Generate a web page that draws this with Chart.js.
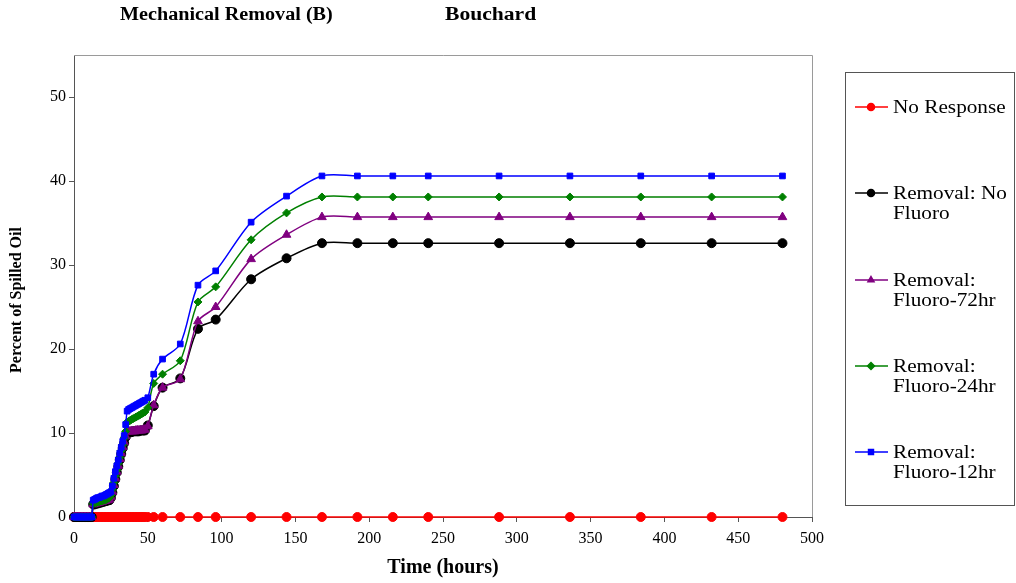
<!DOCTYPE html>
<html>
<head>
<meta charset="utf-8">
<script src="https://cdn.jsdelivr.net/npm/chart.js@4/dist/chart.umd.min.js"></script>
<style>
  html,body{margin:0;padding:0;background:#fff;}
  #wrap{width:1016px;height:583px;position:relative;}
</style>
</head>
<body>
<div id="wrap"><canvas id="graf" width="1016" height="583"></canvas></div>
<script>
// --- dados ---
const horas = [0,1,2,3,4,5,6,7,8,9,10,11,12,13,14,15,16,17,18,19,20,21,22,23,24,
  25,26,27,28,29,30,31,32,33,34,35,36,37,38,39,40,41,42,43,44,45,46,47,48,
  50,54,60,72,84,96,120,144,168,192,216,240,288,336,384,432,480];

const semResposta = [0,0,0,0,0,0,0,0,0,0,0,0,0,0,0,0,0,0,0,0,0,0,0,0,0,
  0,0,0,0,0,0,0,0,0,0,0,0,0,0,0,0,0,0,0,0,0,0,0,0,
  0,0,0,0,0,0,0,0,0,0,0,0,0,0,0,0,0];

const semFluoro = [0,0,0,0,0,0,0,0,0,0,0,0,0,1.5,1.5,1.6,1.6,1.7,1.7,1.8,1.8,1.9,1.9,2.0,2.0,
  2.3,2.9,3.7,4.5,5.3,6.0,6.8,7.5,8.2,8.8,9.5,10.1,10.1,10.1,10.1,10.2,10.2,10.2,10.2,10.2,10.3,10.3,10.3,10.3,
  10.9,13.2,15.4,16.5,22.4,23.5,28.3,30.8,32.6,32.6,32.6,32.6,32.6,32.6,32.6,32.6,32.6];

const fluoro72 = [0,0,0,0,0,0,0,0,0,0,0,0,0,1.5,1.6,1.6,1.7,1.7,1.8,1.8,1.9,1.9,2.0,2.0,2.1,
  2.4,3.0,3.8,4.6,5.4,6.1,6.9,7.6,8.3,8.9,9.6,10.2,10.2,10.2,10.2,10.2,10.2,10.3,10.3,10.3,10.3,10.3,10.4,10.4,
  10.8,13.3,15.4,16.4,23.3,25.0,30.7,33.6,35.7,35.7,35.7,35.7,35.7,35.7,35.7,35.7,35.7];

const fluoro24 = [0,0,0,0,0,0,0,0,0,0,0,0,0,1.6,1.7,1.7,1.8,1.8,1.9,1.9,2.0,2.0,2.1,2.2,2.3,
  2.6,3.3,4.1,4.9,5.6,6.4,7.1,7.9,8.6,9.4,10.2,11.3,11.4,11.5,11.6,11.7,11.8,11.9,12.0,12.1,12.2,12.3,12.4,12.5,
  13.0,15.9,17.0,18.6,25.6,27.4,33.0,36.2,38.1,38.1,38.1,38.1,38.1,38.1,38.1,38.1,38.1];

const fluoro12 = [0,0,0,0,0,0,0,0,0,0,0,0,0,2.0,2.1,2.2,2.3,2.3,2.4,2.5,2.5,2.6,2.7,2.8,2.9,
  3.0,3.7,4.6,5.4,6.1,6.8,7.6,8.3,9.0,9.7,11.0,12.6,12.8,12.9,13.0,13.1,13.2,13.3,13.4,13.5,13.6,13.7,13.8,13.9,
  14.2,17.0,18.8,20.6,27.6,29.3,35.1,38.2,40.6,40.6,40.6,40.6,40.6,40.6,40.6,40.6,40.6];

const nomes = ["No Response","Removal: No Fluoro","Removal: Fluoro-72hr","Removal: Fluoro-24hr","Removal: Fluoro-12hr"];
const legendaLinhas = [["No Response"],["Removal: No","Fluoro"],["Removal:","Fluoro-72hr"],["Removal:","Fluoro-24hr"],["Removal:","Fluoro-12hr"]];
const xTicks = [0,50,100,150,200,250,300,350,400,450,500];
const yTicks = [0,10,20,30,40,50];

const serif = "'Liberation Serif','Times New Roman',serif";
const pts = arr => horas.map((h,i)=>({x:h,y:arr[i]}));

function serie(label, arr, cor, estilo, raio, ordem){
  return {label, data:pts(arr), borderColor:cor, backgroundColor:cor, pointStyle:estilo,
    pointRadius:raio, pointHoverRadius:raio, borderWidth:1.5, pointBorderWidth:1,
    tension:0.3, clip:false, order:ordem};
}

const series = [
  serie(nomes[0], semResposta, '#ff0000', 'circle', 4.5, 4),
  serie(nomes[1], semFluoro, '#000000', 'circle', 4.5, 3),
  serie(nomes[2], fluoro72, '#800080', 'triangle', 5, 2),
  serie(nomes[3], fluoro24, '#008000', 'rectRot', 4, 1),
  serie(nomes[4], fluoro12, '#0000ff', 'rect', 4, 0)
];

// texto um pouco esticado na horizontal, como no original
function texto(ctx, t, x, y, sx){
  ctx.save(); ctx.translate(x,y); ctx.scale(sx,1); ctx.fillText(t,0,0); ctx.restore();
}

// titulos, moldura e legenda
const extras = {
  id:'extras',
  afterDraw(chart){
    const ctx = chart.ctx, a = chart.chartArea;
    ctx.save();
    ctx.strokeStyle = '#9a9a9a'; ctx.lineWidth = 1;
    ctx.beginPath();
    ctx.moveTo(a.left, a.top+0.5); ctx.lineTo(a.right+0.5, a.top+0.5); ctx.lineTo(a.right+0.5, a.bottom);
    ctx.stroke();
    ctx.fillStyle = '#000';
    ctx.font = "bold 18px " + serif;
    ctx.textBaseline = 'middle';
    texto(ctx, "Mechanical Removal (B)", 120, 15, 1.12);
    texto(ctx, "Bouchard", 445, 15, 1.2);
    // legenda
    ctx.strokeStyle = '#555';
    ctx.strokeRect(845.5, 72.5, 169, 433);
    ctx.font = "18px " + serif;
    const ys = [107, 193, 280, 366, 452];
    series.forEach((ds,i)=>{
      const y = ys[i];
      ctx.strokeStyle = ds.borderColor; ctx.lineWidth = 1.5;
      ctx.beginPath(); ctx.moveTo(855, y); ctx.lineTo(888, y); ctx.stroke();
      ctx.fillStyle = ds.borderColor;
      Chart.helpers.drawPoint(ctx, {pointStyle:ds.pointStyle, radius:3.5, borderWidth:1}, 871, y);
      ctx.fillStyle = '#000';
      legendaLinhas[i].forEach((t,j)=>texto(ctx, t, 893, y + 1 + j*20, 1.18));
    });
    // titulo do eixo y
    ctx.font = "bold 16px " + serif;
    ctx.textAlign = 'center';
    ctx.save(); ctx.translate(17, 300); ctx.rotate(-Math.PI/2); ctx.fillText("Percent of Spilled Oil", 0, 0); ctx.restore();
    ctx.restore();
  }
};

new Chart(document.getElementById('graf').getContext('2d'), {
  type:'line',
  data:{datasets:series},
  options:{
    responsive:false, animation:false,
    layout:{padding:{left:0, top:55, right:204, bottom:0}},
    plugins:{legend:{display:false}, tooltip:{enabled:false}},
    scales:{
      x:{type:'linear', min:0, max:500,
        afterBuildTicks:s=>{s.ticks = xTicks.map(v=>({value:v}));},
        afterFit:s=>{s.height = 66;},
        grid:{drawOnChartArea:false, tickLength:5, color:'#555'},
        border:{color:'#555', width:1},
        ticks:{color:'#000', font:{family:serif, size:16}, padding:7, maxRotation:0},
        title:{display:true, text:'Time (hours)', color:'#000', font:{family:serif, size:20, weight:'bold'}, padding:{top:0, bottom:3}}
      },
      y:{min:0, max:55,
        afterBuildTicks:s=>{s.ticks = yTicks.map(v=>({value:v}));},
        afterFit:s=>{s.width = 74;},
        grid:{drawOnChartArea:false, tickLength:5, color:'#555'},
        border:{color:'#555', width:1},
        ticks:{color:'#000', font:{family:serif, size:16}, padding:3}
      }
    }
  },
  plugins:[extras]
});
</script>
</body>
</html>
